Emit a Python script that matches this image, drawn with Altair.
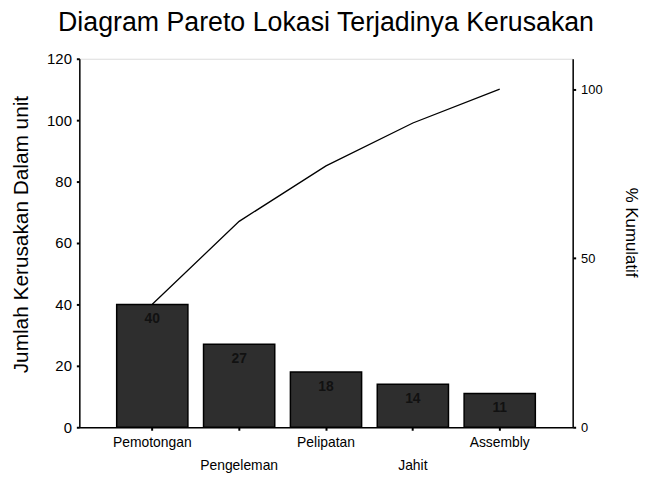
import altair as alt
import pandas as pd

categories = ["Pemotongan", "Pengeleman", "Pelipatan", "Jahit", "Assembly"]
counts = [40, 27, 18, 14, 11]
cum_pct = [36.4, 60.9, 77.3, 90.0, 100.0]
left_ticks = [0, 20, 40, 60, 80, 100, 120]
right_ticks = [0, 50, 100]

df = pd.DataFrame({"cat": categories, "count": counts, "cum": cum_pct})

FONT = "Liberation Sans"

x = alt.X(
    "cat:N",
    sort=categories,
    scale=alt.Scale(paddingInner=0.18, paddingOuter=0.43),
    axis=alt.Axis(
        title=None,
        labelAngle=0,
        labelFont=FONT,
        labelFontSize=14,
        labelColor="black",
        labelPadding=5,
        labelLineHeight=24,
        labelExpr="indexof(['Pengeleman','Jahit'], datum.value) >= 0 ? ['', datum.value] : datum.value",
        tickSize=3,
        tickWidth=2,
        tickColor="black",
        domainColor="black",
        domainWidth=1.5,
    ),
)

bars = alt.Chart(df).mark_bar(
    color="#2e2e2e", stroke="black", strokeWidth=1.5
).encode(
    x=x,
    y=alt.Y(
        "count:Q",
        scale=alt.Scale(domain=[0, 120], nice=False, zero=True),
        axis=alt.Axis(
            values=left_ticks,
            title="Jumlah Kerusakan Dalam unit",
            titleFont=FONT,
            titleFontSize=21,
            titleFontWeight="normal",
            titleColor="black",
            titleAngle=-90,
            titleX=-58,
            titleY=177,
            titleAlign="center",
            titleBaseline="middle",
            labelFont=FONT,
            labelFontSize=15,
            labelColor="black",
            labelPadding=5,
            tickSize=3,
            tickWidth=2,
            tickColor="black",
            domainColor="black",
            domainWidth=1.5,
            grid=False,
        ),
    ),
)

labels = alt.Chart(df).mark_text(
    font=FONT, fontSize=14, fontWeight="bold", color="#111111", baseline="top", dy=8
).encode(
    x=alt.X("cat:N", sort=categories),
    y=alt.Y("count:Q"),
    text=alt.Text("count:Q"),
)

line = alt.Chart(df).mark_line(color="black", strokeWidth=1.3).encode(
    x=alt.X("cat:N", sort=categories),
    y=alt.Y(
        "cum:Q",
        scale=alt.Scale(domain=[0, 109], nice=False, zero=True),
        axis=alt.Axis(
            orient="right",
            values=right_ticks,
            title="% Kumulatif",
            titleFont=FONT,
            titleFontSize=17,
            titleFontWeight="normal",
            titleColor="black",
            titleAngle=90,
            titleX=58,
            titleY=175,
            titleAlign="center",
            titleBaseline="middle",
            labelFont=FONT,
            labelFontSize=13,
            labelColor="black",
            labelPadding=5,
            tickSize=3,
            tickWidth=2,
            tickColor="black",
            domainColor="black",
            domainWidth=1.5,
            grid=False,
        ),
    ),
)

chart = (
    alt.layer(alt.layer(bars, labels), line)
    .resolve_scale(y="independent")
    .properties(
        width=498,
        height=372,
        autosize=alt.AutoSizeParams(type="none"),
        padding={"left": 72, "top": 49, "right": 73, "bottom": 50},
        title=alt.TitleParams(
            "Diagram Pareto Lokasi Terjadinya Kerusakan",
            font=FONT,
            fontSize=27,
            fontWeight="normal",
            color="black",
            anchor="middle",
            offset=15,
        ),
    )
    .configure_view(stroke="black", strokeWidth=1.5)
    .configure(background="white")
)

chart.save("out.html", embed_options={"renderer": "svg", "actions": False})
